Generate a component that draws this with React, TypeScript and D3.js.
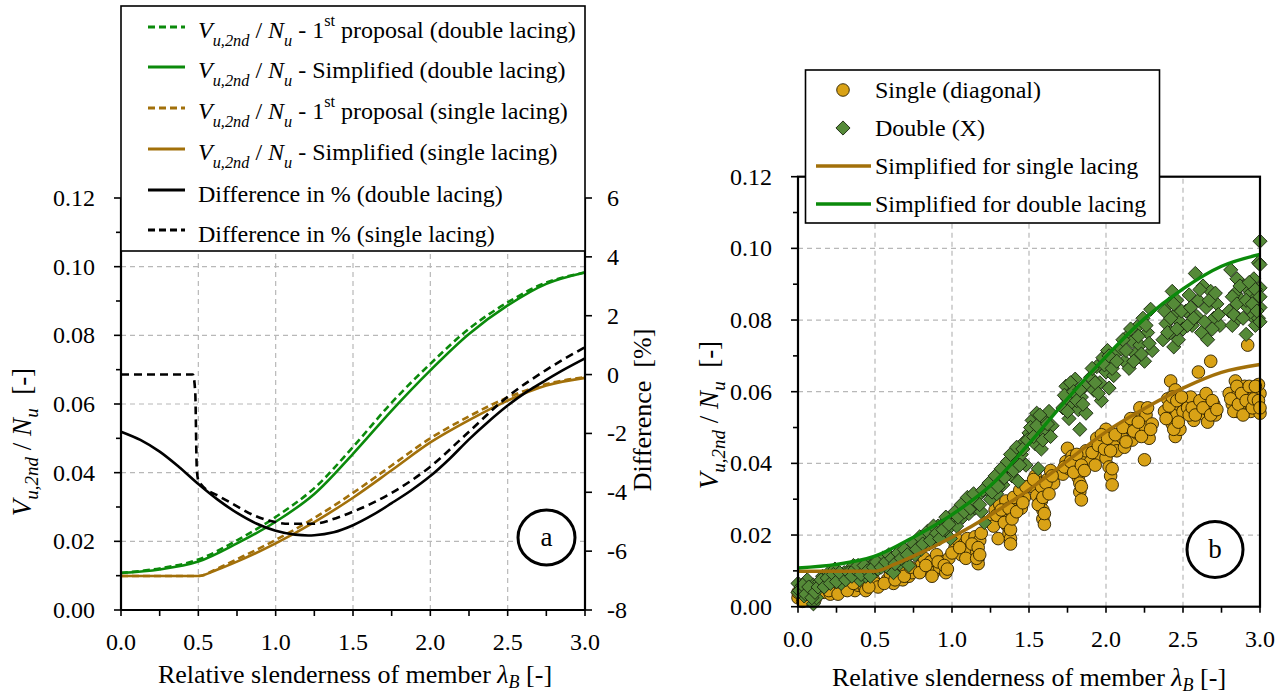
import React from "react";
import * as d3 from "d3";

// ---------- DATA ----------
const lambdaA = [0, 0.25, 0.5, 0.75, 1.0, 1.25, 1.5, 1.75, 2.0, 2.25, 2.5, 2.75, 3.0];
const dblSimplified = [0.0108, 0.0118, 0.0141, 0.0194, 0.0257, 0.0338, 0.0455, 0.0581, 0.0698, 0.0804, 0.0887, 0.095, 0.0983];
const dblProposal = [0.0108, 0.0121, 0.0147, 0.0203, 0.0271, 0.0355, 0.0475, 0.0604, 0.0717, 0.0819, 0.0896, 0.0954, 0.0983];

const lambdaS = [0, 0.25, 0.5, 0.625, 0.75, 1.0, 1.25, 1.5, 1.75, 2.0, 2.25, 2.5, 2.75, 3.0];
const sglSimplified = [0.0099, 0.0099, 0.0099, 0.0118, 0.0141, 0.0194, 0.0256, 0.0327, 0.0407, 0.0488, 0.0553, 0.061, 0.0654, 0.0676];
const sglProposal = [0.0099, 0.0099, 0.0099, 0.0121, 0.0148, 0.0204, 0.0268, 0.0341, 0.0421, 0.0500, 0.0564, 0.0619, 0.0658, 0.0678];

const lambdaDiffD = [0, 0.125, 0.25, 0.375, 0.5, 0.625, 0.75, 0.875, 1.0, 1.125, 1.25, 1.375, 1.5, 1.625, 1.75, 1.875, 2.0, 2.125, 2.25, 2.375, 2.5, 2.625, 2.75, 2.875, 3.0];
const diffDouble = [-1.94, -2.22, -2.62, -3.14, -3.72, -4.25, -4.7, -5.06, -5.31, -5.44, -5.46, -5.36, -5.12, -4.78, -4.37, -3.94, -3.45, -2.86, -2.2, -1.6, -1.05, -0.58, -0.18, 0.2, 0.55];

const lambdaDiffS = [0, 0.465, 0.48, 0.49, 0.5, 0.52, 0.637, 0.745, 0.853, 0.961, 1.09, 1.24, 1.39, 1.5, 1.75, 2.0, 2.25, 2.5, 2.75, 3.0];
const diffSingle = [0, 0, -0.6, -3.2, -3.6, -3.75, -4.14, -4.46, -4.77, -4.97, -5.07, -5.07, -4.88, -4.66, -4.02, -3.13, -1.94, -0.75, 0.16, 0.93];

const xTicks = [0, 0.5, 1.0, 1.5, 2.0, 2.5, 3.0];
const yTicks = [0, 0.02, 0.04, 0.06, 0.08, 0.1, 0.12];
const diffTicks = [-8, -6, -4, -2, 0, 2, 4, 6];

const singlePoints: [number, number][] = [
  [0.0, 0.0025], [0.0, 0.004], [0.02, 0.0055], [0.04, 0.003], [0.06, 0.0045], [0.08, 0.002], [0.1, 0.0035], [0.1, 0.005], [0.12, 0.003], [0.14, 0.0045],
  [0.17, 0.004], [0.19, 0.0055], [0.21, 0.0035], [0.23, 0.005], [0.25, 0.006], [0.27, 0.0045], [0.29, 0.0055], [0.31, 0.005], [0.33, 0.0065], [0.35, 0.0055],
  [0.37, 0.0045], [0.39, 0.006], [0.41, 0.007], [0.43, 0.0055], [0.47, 0.007], [0.49, 0.0075], [0.5, 0.0065], [0.52, 0.0055],
  [0.58, 0.0075], [0.6, 0.009], [0.62, 0.0065], [0.64, 0.0085], [0.66, 0.0095], [0.68, 0.0075], [0.7, 0.0105], [0.72, 0.0085], [0.74, 0.0095],
  [0.8, 0.0115], [0.82, 0.0135], [0.84, 0.0105], [0.86, 0.0125], [0.88, 0.0095], [0.9, 0.0145], [0.92, 0.011], [0.94, 0.0125], [0.96, 0.0095], [0.98, 0.0135],
  [1.02, 0.0165], [1.04, 0.0185], [1.06, 0.0145], [1.08, 0.0175], [1.1, 0.019], [1.12, 0.0155], [1.15, 0.0195], [1.16, 0.0175], [1.16, 0.0155], [1.17, 0.0135], [1.17, 0.012], [1.18, 0.0185],
  [1.26, 0.0245], [1.28, 0.027], [1.3, 0.019], [1.31, 0.0285], [1.33, 0.025], [1.35, 0.0295], [1.36, 0.0225], [1.37, 0.0205], [1.38, 0.019], [1.38, 0.0175], [1.39, 0.0265], [1.41, 0.0285], [1.43, 0.031], [1.45, 0.0275], [1.47, 0.0305],
  [1.52, 0.0335], [1.54, 0.0365], [1.55, 0.031], [1.57, 0.0345], [1.58, 0.0295], [1.59, 0.027], [1.59, 0.0245], [1.6, 0.023], [1.6, 0.0325], [1.62, 0.0355], [1.64, 0.038], [1.66, 0.0345],
  [1.72, 0.037], [1.74, 0.0405], [1.75, 0.0442], [1.76, 0.0385], [1.78, 0.042], [1.8, 0.0395], [1.82, 0.036], [1.83, 0.0345], [1.83, 0.032], [1.84, 0.0298], [1.85, 0.0415], [1.87, 0.0435],
  [1.9, 0.0405], [1.92, 0.0445], [1.94, 0.047], [1.96, 0.0425], [1.98, 0.0455], [2.0, 0.0495], [2.0, 0.0415], [2.02, 0.039], [2.03, 0.0365], [2.04, 0.034], [2.05, 0.046], [2.07, 0.0435],
  [2.1, 0.0475], [2.12, 0.0445], [2.15, 0.05], [2.17, 0.0465], [2.19, 0.0525], [2.2, 0.0485], [2.22, 0.0555], [2.24, 0.0505], [2.25, 0.041], [2.26, 0.0535], [2.28, 0.047], [2.3, 0.051],
  [2.38, 0.0545], [2.4, 0.058], [2.42, 0.063], [2.43, 0.051], [2.44, 0.0555], [2.45, 0.0605], [2.45, 0.0475], [2.46, 0.0535], [2.47, 0.0565], [2.48, 0.0495], [2.5, 0.0545],
  [2.53, 0.0555], [2.55, 0.0585], [2.57, 0.052], [2.59, 0.056], [2.6, 0.0655], [2.62, 0.054], [2.64, 0.0575], [2.66, 0.0515], [2.67, 0.0545], [2.68, 0.0685], [2.7, 0.0565], [2.71, 0.0535],
  [2.8, 0.0595], [2.82, 0.0565], [2.84, 0.063], [2.85, 0.0545], [2.86, 0.06], [2.87, 0.0575], [2.88, 0.0555], [2.9, 0.0615], [2.92, 0.073], [2.93, 0.059], [2.94, 0.0545], [2.96, 0.0605], [2.97, 0.057], [2.98, 0.0555], [3.0, 0.0595], [3.0, 0.054], [2.99, 0.062],
  [0.03, 0.0015], [0.07, 0.0035], [0.11, 0.002], [0.15, 0.006], [0.2, 0.0045], [0.26, 0.0035], [0.32, 0.0045], [0.36, 0.0065], [0.44, 0.0045], [0.46, 0.0055],
  [0.56, 0.0065], [0.63, 0.0075], [0.69, 0.0085], [0.73, 0.011], [0.79, 0.0095], [0.83, 0.0115], [0.87, 0.0085], [0.91, 0.0125], [0.95, 0.0115], [0.97, 0.0105],
  [1.0, 0.015], [1.05, 0.0165], [1.09, 0.0135], [1.13, 0.0175], [1.16, 0.0135], [1.17, 0.0165], [1.18, 0.0145], [1.19, 0.0205], [1.27, 0.0225], [1.29, 0.0255],
  [1.32, 0.027], [1.34, 0.0235], [1.37, 0.0275], [1.38, 0.0215], [1.39, 0.0245], [1.4, 0.0305], [1.42, 0.0265], [1.44, 0.0325], [1.46, 0.029], [1.48, 0.0335],
  [1.53, 0.0355], [1.56, 0.0285], [1.58, 0.0335], [1.59, 0.0305], [1.6, 0.026], [1.61, 0.0345], [1.63, 0.0315], [1.65, 0.0365], [1.73, 0.039], [1.77, 0.0405],
  [1.79, 0.0375], [1.81, 0.0425], [1.84, 0.0395], [1.84, 0.0335], [1.86, 0.038], [1.91, 0.043], [1.93, 0.0395], [1.95, 0.045], [1.97, 0.048], [1.99, 0.044],
  [2.01, 0.047], [2.03, 0.0435], [2.04, 0.0385], [2.06, 0.048], [2.11, 0.05], [2.13, 0.046], [2.16, 0.0525], [2.18, 0.049], [2.21, 0.0515], [2.23, 0.0475],
  [2.27, 0.0555], [2.29, 0.0495], [2.39, 0.0525], [2.41, 0.056], [2.43, 0.0585], [2.44, 0.0495], [2.46, 0.0575], [2.47, 0.0515], [2.49, 0.0585], [2.54, 0.0535],
  [2.56, 0.0555], [2.58, 0.0535], [2.61, 0.0575], [2.63, 0.0555], [2.65, 0.0595], [2.68, 0.0535], [2.69, 0.0575], [2.72, 0.055], [2.81, 0.058], [2.83, 0.0545],
  [2.85, 0.0615], [2.86, 0.0565], [2.88, 0.0595], [2.89, 0.0535], [2.91, 0.0575], [2.93, 0.0615], [2.95, 0.0555], [2.96, 0.058], [2.97, 0.0615], [2.99, 0.0575], [3.0, 0.0555],
];

const doublePoints: [number, number][] = [
  [0.0, 0.0065], [0.0, 0.004], [0.02, 0.0055], [0.04, 0.003], [0.06, 0.0075], [0.08, 0.0045], [0.1, 0.0008], [0.1, 0.006], [0.12, 0.0025], [0.14, 0.007],
  [0.16, 0.0085], [0.18, 0.006], [0.2, 0.0095], [0.22, 0.0075], [0.24, 0.0105], [0.26, 0.0085], [0.28, 0.0065], [0.3, 0.0095], [0.32, 0.008], [0.34, 0.0105], [0.36, 0.0115], [0.38, 0.009], [0.4, 0.0075], [0.42, 0.01], [0.44, 0.0085],
  [0.46, 0.0115], [0.48, 0.0095], [0.5, 0.0125], [0.52, 0.0105], [0.55, 0.0135], [0.58, 0.011], [0.6, 0.0125], [0.62, 0.0095], [0.64, 0.014], [0.66, 0.012], [0.68, 0.0155], [0.7, 0.0135], [0.72, 0.0115],
  [0.74, 0.0165], [0.76, 0.0145], [0.78, 0.018], [0.8, 0.016], [0.83, 0.0195], [0.85, 0.0175], [0.87, 0.021], [0.89, 0.0185], [0.91, 0.0225], [0.93, 0.02], [0.95, 0.0235], [0.97, 0.0215], [0.99, 0.019],
  [1.01, 0.0245], [1.03, 0.0225], [1.05, 0.027], [1.07, 0.025], [1.09, 0.0285], [1.11, 0.026], [1.13, 0.0295], [1.15, 0.0275], [1.17, 0.031], [1.19, 0.0265], [1.21, 0.0235],
  [1.23, 0.0325], [1.25, 0.03], [1.27, 0.0345], [1.29, 0.0315], [1.31, 0.0365], [1.33, 0.034], [1.35, 0.0385],
  [1.37, 0.039], [1.39, 0.0365], [1.41, 0.0405], [1.43, 0.035], [1.45, 0.0425], [1.47, 0.046], [1.48, 0.0395],
  [1.5, 0.0485], [1.52, 0.052], [1.54, 0.0455], [1.55, 0.054], [1.56, 0.0385], [1.57, 0.05], [1.58, 0.044], [1.6, 0.0525], [1.61, 0.048], [1.63, 0.0545], [1.65, 0.0505],
  [1.72, 0.0555], [1.74, 0.0615], [1.75, 0.058], [1.76, 0.0525], [1.78, 0.06], [1.79, 0.0565], [1.8, 0.0635], [1.82, 0.055], [1.83, 0.0495], [1.84, 0.0585], [1.86, 0.0615], [1.87, 0.054],
  [1.9, 0.064], [1.92, 0.0605], [1.94, 0.067], [1.96, 0.0625], [1.97, 0.0575], [1.98, 0.0695], [2.0, 0.0655], [2.01, 0.0715], [2.02, 0.061], [2.03, 0.068], [2.05, 0.0645], [2.06, 0.0705],
  [2.1, 0.072], [2.12, 0.0685], [2.14, 0.0755], [2.15, 0.0665], [2.17, 0.074], [2.19, 0.0705], [2.2, 0.078], [2.22, 0.073], [2.24, 0.0805], [2.25, 0.0685], [2.27, 0.0765], [2.29, 0.083], [2.3, 0.0715],
  [2.37, 0.0745], [2.39, 0.079], [2.41, 0.0845], [2.42, 0.0765], [2.43, 0.088], [2.44, 0.0725], [2.45, 0.0815], [2.46, 0.0855], [2.47, 0.0745], [2.48, 0.0795], [2.5, 0.0775],
  [2.52, 0.0825], [2.54, 0.087], [2.56, 0.0785], [2.58, 0.093], [2.59, 0.081], [2.6, 0.0855], [2.62, 0.0765], [2.63, 0.0895], [2.65, 0.0835], [2.66, 0.0745], [2.68, 0.088], [2.7, 0.0805], [2.72, 0.0845], [2.74, 0.0785],
  [2.8, 0.0825], [2.81, 0.094], [2.82, 0.0785], [2.84, 0.0875], [2.85, 0.0915], [2.86, 0.0805], [2.88, 0.0855], [2.9, 0.0895], [2.91, 0.076], [2.92, 0.0835], [2.94, 0.0875], [2.95, 0.081], [2.96, 0.0915], [2.97, 0.0785], [2.98, 0.0865], [2.99, 0.096], [3.0, 0.102], [3.0, 0.089], [3.0, 0.0835], [2.99, 0.0805],
  [0.01, 0.0045], [0.03, 0.006], [0.05, 0.0035], [0.07, 0.0055], [0.09, 0.0025], [0.11, 0.004], [0.13, 0.0055], [0.15, 0.0075], [0.17, 0.0055], [0.19, 0.008],
  [0.21, 0.0065], [0.23, 0.009], [0.25, 0.007], [0.27, 0.0095], [0.31, 0.0075], [0.33, 0.0095], [0.35, 0.0085], [0.37, 0.0105], [0.39, 0.0115], [0.41, 0.009],
  [0.43, 0.0115], [0.45, 0.01], [0.47, 0.0085], [0.49, 0.011], [0.51, 0.0125], [0.54, 0.011], [0.57, 0.0125], [0.59, 0.0145], [0.61, 0.0135], [0.63, 0.012],
  [0.65, 0.015], [0.67, 0.0135], [0.69, 0.016], [0.71, 0.0145], [0.75, 0.0175], [0.77, 0.016], [0.79, 0.0195], [0.81, 0.0175], [0.84, 0.021], [0.86, 0.0185],
  [0.88, 0.0225], [0.9, 0.0205], [0.92, 0.019], [0.94, 0.0215], [0.96, 0.025], [0.98, 0.023], [1.02, 0.0265], [1.04, 0.025], [1.06, 0.0285], [1.08, 0.0265],
  [1.1, 0.0305], [1.12, 0.0275], [1.14, 0.0315], [1.16, 0.029], [1.18, 0.0285], [1.2, 0.0325], [1.24, 0.0345], [1.26, 0.032], [1.28, 0.0365], [1.3, 0.0335],
  [1.32, 0.0385], [1.34, 0.036], [1.36, 0.0405], [1.38, 0.0425], [1.4, 0.038], [1.42, 0.0445], [1.44, 0.0395], [1.46, 0.044], [1.49, 0.0465], [1.51, 0.05],
  [1.53, 0.0475], [1.55, 0.0505], [1.57, 0.0535], [1.59, 0.0465], [1.62, 0.051], [1.64, 0.0475], [1.73, 0.059], [1.75, 0.0545], [1.77, 0.0625], [1.79, 0.06],
  [1.81, 0.0575], [1.83, 0.0605], [1.85, 0.0565], [1.91, 0.0665], [1.93, 0.0625], [1.95, 0.0595], [1.99, 0.0675], [2.02, 0.07], [2.04, 0.0665], [2.07, 0.0685],
  [2.11, 0.0745], [2.13, 0.0715], [2.16, 0.0775], [2.18, 0.0685], [2.21, 0.0755], [2.23, 0.0705], [2.26, 0.0785], [2.28, 0.0735], [2.38, 0.0825], [2.4, 0.0765],
  [2.42, 0.0805], [2.44, 0.0845], [2.46, 0.0775], [2.49, 0.0825], [2.53, 0.0785], [2.55, 0.0835], [2.57, 0.0805], [2.61, 0.0885], [2.64, 0.0795], [2.67, 0.0855],
  [2.69, 0.0775], [2.71, 0.0875], [2.73, 0.0815], [2.82, 0.0865], [2.83, 0.0815], [2.85, 0.0845], [2.87, 0.0895], [2.89, 0.0805], [2.91, 0.0855], [2.93, 0.0905],
  [2.95, 0.0845], [2.97, 0.0885], [2.98, 0.0825], [3.0, 0.0955], [3.0, 0.0865], [3.0, 0.0795],
];

// ---------- STYLE ----------
const FONT = "'Liberation Serif', 'Times New Roman', Times, serif";
const GREEN = "#0b8a0b";
const GOLD = "#a2700a";
const GRID = "#b8b8b8";
const CIRC_FILL = "#d9a216";
const DIAM_FILL = "#558a38";

const zip = (xs: number[], ys: number[]) => xs.map((x, i) => [x, ys[i]] as [number, number]);

function LegendVEntry({ x, y, size, tail, sup }: any) {
  const s = size * 0.68;
  const d = size * 0.33;
  return (
    <text x={x} y={y} fontSize={size} style={{ whiteSpace: "pre" }}>
      <tspan fontStyle="italic">V</tspan>
      <tspan fontStyle="italic" fontSize={s} dy={d}>u,2nd</tspan>
      <tspan dy={-d}>{" / "}</tspan>
      <tspan fontStyle="italic">N</tspan>
      <tspan fontStyle="italic" fontSize={s} dy={d}>u</tspan>
      {sup ? (
        <>
          <tspan dy={-d}>{" - 1"}</tspan>
          <tspan fontSize={s} dy={-size * 0.5}>st</tspan>
          <tspan dy={size * 0.5}>{" " + tail}</tspan>
        </>
      ) : (
        <tspan dy={-d}>{" - " + tail}</tspan>
      )}
    </text>
  );
}

function XTitle({ cx, y }: any) {
  return (
    <text x={cx} y={y} fontSize={26} textAnchor="middle" style={{ whiteSpace: "pre" }}>
      <tspan>{"Relative slenderness of member "}</tspan>
      <tspan fontStyle="italic">λ</tspan>
      <tspan fontStyle="italic" fontSize={18} dy={5}>B</tspan>
      <tspan dy={-5}>{" [-]"}</tspan>
    </text>
  );
}

function YTitle({ x, y }: any) {
  const size = 27;
  const s = 19;
  const d = 7;
  return (
    <text transform={`translate(${x},${y}) rotate(-90)`} fontSize={size} textAnchor="middle" style={{ whiteSpace: "pre" }}>
      <tspan fontStyle="italic">V</tspan>
      <tspan fontStyle="italic" fontSize={s} dy={d}>u,2nd</tspan>
      <tspan dy={-d}>{" / "}</tspan>
      <tspan fontStyle="italic">N</tspan>
      <tspan fontStyle="italic" fontSize={s} dy={d}>u</tspan>
      <tspan dy={-d}>{"  [-]"}</tspan>
    </text>
  );
}

export default function App() {
  // chart a scales
  const xA = d3.scaleLinear().domain([0, 3]).range([121, 585]);
  const yA = d3.scaleLinear().domain([0, 0.12]).range([610, 198]);
  const yD = d3.scaleLinear().domain([-8, 6]).range([610, 198]);
  // chart b scales
  const xB = d3.scaleLinear().domain([0, 3]).range([798, 1260]);
  const yB = d3.scaleLinear().domain([0, 0.12]).range([606.7, 176.7]);

  const smooth = d3.curveCatmullRom.alpha(0.5);
  const mono = d3.curveMonotoneX;
  const lineA = d3.line<[number, number]>().x((d) => xA(d[0])).y((d) => yA(d[1])).curve(smooth);
  const lineAS = d3.line<[number, number]>().x((d) => xA(d[0])).y((d) => yA(d[1])).curve(mono);
  const lineD = d3.line<[number, number]>().x((d) => xA(d[0])).y((d) => yD(d[1])).curve(smooth);
  const lineDS = d3.line<[number, number]>().x((d) => xA(d[0])).y((d) => yD(d[1])).curve(mono);
  const lineB = d3.line<[number, number]>().x((d) => xB(d[0])).y((d) => yB(d[1])).curve(smooth);
  const lineBS = d3.line<[number, number]>().x((d) => xB(d[0])).y((d) => yB(d[1])).curve(mono);

  const minorX = d3.range(0, 3.0001, 0.25);
  const minorY = d3.range(0, 0.12001, 0.01);
  const diamond = d3.symbol().type(d3.symbolSquare).size(100)() as string;

  const gridXs = [0.5, 1.0, 1.5, 2.0, 2.5];
  const gridYs = [0.02, 0.04, 0.06, 0.08, 0.1];

  const legA = [
    { color: GREEN, dash: "7,4", kind: "v", tail: "proposal (double lacing)", sup: true },
    { color: GREEN, dash: null, kind: "v", tail: "Simplified (double lacing)", sup: false },
    { color: GOLD, dash: "7,4", kind: "v", tail: "proposal (single lacing)", sup: true },
    { color: GOLD, dash: null, kind: "v", tail: "Simplified (single lacing)", sup: false },
    { color: "#000", dash: null, kind: "t", tail: "Difference in % (double lacing)" },
    { color: "#000", dash: "7,4", kind: "t", tail: "Difference in % (single lacing)" },
  ];
  const legAY = [27, 67, 108, 149, 190, 230];

  return (
    <svg width={1288} height={694} style={{ position: "absolute", left: 0, top: 0, background: "#fff" }} fontFamily={FONT}>
      <rect x={0} y={0} width={1288} height={694} fill="#fff" />

      {/* ================= CHART A ================= */}
      <g>
        {gridXs.map((v) => (
          <line key={"gxa" + v} x1={xA(v)} x2={xA(v)} y1={yA(0)} y2={yA(0.12)} stroke={GRID} strokeDasharray="5,4" strokeWidth={1.2} />
        ))}
        {gridYs.map((v) => (
          <line key={"gya" + v} x1={xA(0)} x2={xA(3)} y1={yA(v)} y2={yA(v)} stroke={GRID} strokeDasharray="5,4" strokeWidth={1.2} />
        ))}

        {/* curves */}
        <path d={lineA(zip(lambdaA, dblProposal)) || ""} fill="none" stroke={GREEN} strokeWidth={2.6} strokeDasharray="7,4" />
        <path d={lineA(zip(lambdaA, dblSimplified)) || ""} fill="none" stroke={GREEN} strokeWidth={2.6} />
        <path d={lineAS(zip(lambdaS, sglProposal)) || ""} fill="none" stroke={GOLD} strokeWidth={2.6} strokeDasharray="7,4" />
        <path d={lineAS(zip(lambdaS, sglSimplified)) || ""} fill="none" stroke={GOLD} strokeWidth={2.6} />
        <path d={lineD(zip(lambdaDiffD, diffDouble)) || ""} fill="none" stroke="#000" strokeWidth={2.6} />
        <path d={lineDS(zip(lambdaDiffS, diffSingle)) || ""} fill="none" stroke="#000" strokeWidth={2.6} strokeDasharray="8,5" />

        {/* axes */}
        <line x1={xA(0)} x2={xA(0)} y1={yA(0.12)} y2={yA(0)} stroke="#000" strokeWidth={2.2} />
        <line x1={xA(0)} x2={xA(3)} y1={yA(0)} y2={yA(0)} stroke="#000" strokeWidth={2.2} />
        <line x1={xA(3)} x2={xA(3)} y1={yA(0.12)} y2={yA(0)} stroke="#000" strokeWidth={2.2} />
        {minorY.map((v, i) => (
          <line key={"tya" + i} x1={xA(0) - (i % 2 === 0 ? 7 : 5)} x2={xA(0)} y1={yA(v)} y2={yA(v)} stroke="#000" strokeWidth={1.6} />
        ))}
        {minorX.map((v, i) => (
          <line key={"txa" + i} x1={xA(v)} x2={xA(v)} y1={yA(0)} y2={yA(0) + 6} stroke="#000" strokeWidth={1.6} />
        ))}
        {diffTicks.map((v) => (
          <line key={"tda" + v} x1={xA(3)} x2={xA(3) + 7} y1={yD(v)} y2={yD(v)} stroke="#000" strokeWidth={1.6} />
        ))}
        {yTicks.map((v) => (
          <text key={"lya" + v} x={95} y={yA(v) + 8} fontSize={24} textAnchor="end">{v.toFixed(2)}</text>
        ))}
        {xTicks.map((v) => (
          <text key={"lxa" + v} x={xA(v)} y={650} fontSize={24} textAnchor="middle">{v.toFixed(1)}</text>
        ))}
        {diffTicks.map((v) => (
          <text key={"lda" + v} x={607} y={yD(v) + 8} fontSize={24} textAnchor="start">{String(v)}</text>
        ))}

        <YTitle x={31} y={442} />
        <text transform="translate(651,410) rotate(-90)" fontSize={26} textAnchor="middle" style={{ whiteSpace: "pre" }}>{"Difference  [%]"}</text>
        <XTitle cx={355} y={683} />

        <ellipse cx={546.5} cy={537.5} rx={28.5} ry={27.5} fill="#fff" stroke="#000" strokeWidth={3} />
        <text x={546.5} y={546} fontSize={27} textAnchor="middle">a</text>

        {/* legend */}
        <rect x={121} y={6} width={464} height={245} fill="#fff" stroke="#000" strokeWidth={1.6} />
        {legA.map((e, i) => (
          <g key={"lega" + i}>
            <line x1={148} x2={185} y1={legAY[i]} y2={legAY[i]} stroke={e.color} strokeWidth={2.8} strokeDasharray={e.dash || undefined} />
            {e.kind === "v" ? (
              <LegendVEntry x={198} y={legAY[i] + 11} size={24} tail={e.tail} sup={e.sup} />
            ) : (
              <text x={198} y={legAY[i] + 12} fontSize={24}>{e.tail}</text>
            )}
          </g>
        ))}
      </g>

      {/* ================= CHART B ================= */}
      <g>
        {gridXs.map((v) => (
          <line key={"gxb" + v} x1={xB(v)} x2={xB(v)} y1={yB(0)} y2={yB(0.12)} stroke={GRID} strokeDasharray="5,4" strokeWidth={1.2} />
        ))}
        {gridYs.map((v) => (
          <line key={"gyb" + v} x1={xB(0)} x2={xB(3)} y1={yB(v)} y2={yB(v)} stroke={GRID} strokeDasharray="5,4" strokeWidth={1.2} />
        ))}

        {singlePoints.map((p, i) => (
          <circle key={"sp" + i} cx={xB(p[0])} cy={yB(p[1])} r={6.3} fill={CIRC_FILL} stroke="#2a1f00" strokeWidth={0.9} />
        ))}
        {doublePoints.map((p, i) => (
          <path key={"dp" + i} d={diamond} transform={`translate(${xB(p[0])},${yB(p[1])}) rotate(45)`} fill={DIAM_FILL} stroke="#1d2b12" strokeWidth={0.9} />
        ))}

        <path d={lineBS(zip(lambdaS, sglSimplified)) || ""} fill="none" stroke={GOLD} strokeWidth={3.4} />
        <path d={lineB(zip(lambdaA, dblSimplified)) || ""} fill="none" stroke={GREEN} strokeWidth={3.4} />

        <rect x={xB(0)} y={yB(0.12)} width={xB(3) - xB(0)} height={yB(0) - yB(0.12)} fill="none" stroke="#000" strokeWidth={2.2} />
        {minorY.map((v, i) => (
          <line key={"tyb" + i} x1={xB(0) - (i % 2 === 0 ? 7 : 5)} x2={xB(0)} y1={yB(v)} y2={yB(v)} stroke="#000" strokeWidth={1.6} />
        ))}
        {minorX.map((v, i) => (
          <line key={"txb" + i} x1={xB(v)} x2={xB(v)} y1={yB(0)} y2={yB(0) + 6} stroke="#000" strokeWidth={1.6} />
        ))}
        {yTicks.map((v) => (
          <text key={"lyb" + v} x={772} y={yB(v) + 8} fontSize={24} textAnchor="end">{v.toFixed(2)}</text>
        ))}
        {xTicks.map((v) => (
          <text key={"lxb" + v} x={xB(v)} y={647} fontSize={24} textAnchor="middle">{v.toFixed(1)}</text>
        ))}

        <YTitle x={718} y={415} />
        <XTitle cx={1029} y={686} />

        <circle cx={1215} cy={549.5} r={28} fill="#fff" stroke="#000" strokeWidth={3} />
        <text x={1215} y={558} fontSize={27} textAnchor="middle">b</text>

        {/* legend */}
        <rect x={805.5} y={70} width={354} height={153} fill="#fff" stroke="#000" strokeWidth={1.6} />
        <circle cx={843} cy={90} r={6.3} fill={CIRC_FILL} stroke="#2a1f00" strokeWidth={0.9} />
        <text x={875} y={98} fontSize={24}>Single (diagonal)</text>
        <path d={diamond} transform="translate(843,128) rotate(45)" fill={DIAM_FILL} stroke="#1d2b12" strokeWidth={0.9} />
        <text x={875} y={136} fontSize={24}>Double (X)</text>
        <line x1={816} x2={871} y1={166} y2={166} stroke={GOLD} strokeWidth={3.4} />
        <text x={875} y={174} fontSize={24}>Simplified for single lacing</text>
        <line x1={816} x2={871} y1={204} y2={204} stroke={GREEN} strokeWidth={3.4} />
        <text x={875} y={212} fontSize={24}>Simplified for double lacing</text>
      </g>
    </svg>
  );
}
